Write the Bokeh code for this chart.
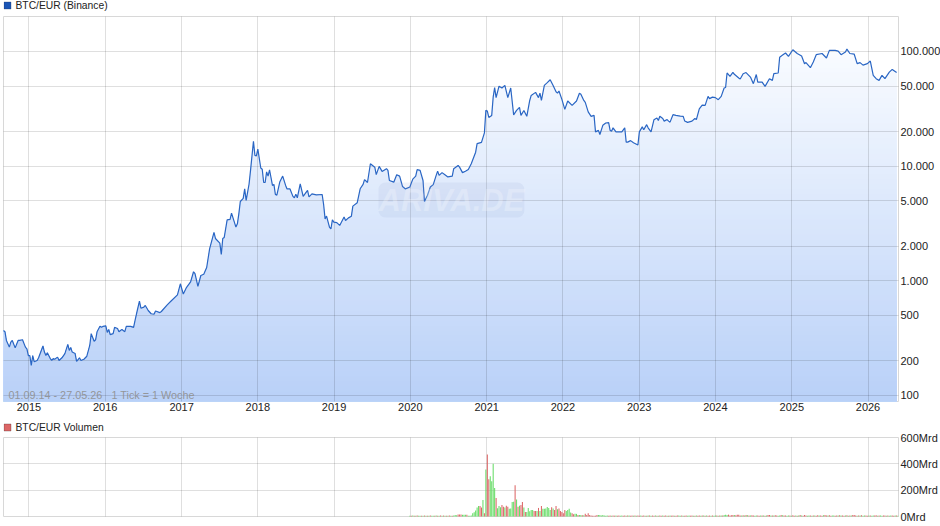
from datetime import datetime, timedelta
import numpy as np
from bokeh.embed import file_html
from bokeh.resources import INLINE
from bokeh.layouts import column
from bokeh.plotting import figure
from bokeh.models import FixedTicker, Label, BoxAnnotation, ColumnDataSource, Range1d

START = datetime(2014, 9, 1)
END = datetime(2026, 5, 27)
years = list(range(2015, 2027))
price_ticks = [100, 200, 500, 1000, 2000, 5000, 10000, 20000, 50000, 100000]
price_labels = ["100", "200", "500", "1.000", "2.000", "5.000", "10.000", "20.000", "50.000", "100.000"]
vol_ticks = [0, 200, 400, 600]
vol_labels = ["0Mrd", "200Mrd", "400Mrd", "600Mrd"]

# weeks since 01.09.14 and weekly close in EUR
weeks = [0,1,2,4,5,6,8,10,11,13,15,16,17,18,19,20,21,23,24,27,28,29,30,32,33,34,35,37,38,40,42,44,45,46,47,49,50,52,53,55,57,59,60,62,63,64,66,67,68,70,71,72,73,75,76,78,79,80,81,83,84,87,89,90,91,93,94,96,97,99,101,103,104,107,108,112,115,119,121,123,125,127,128,130,131,133,135,137,139,141,144,145,148,149,150,151,153,155,156,159,160,161,162,164,165,166,168,169,171,172,173,174,176,177,178,179,180,181,182,184,185,186,187,189,191,193,194,196,198,199,200,201,203,205,208,209,211,214,218,219,220,221,223,224,225,226,228,230,233,234,236,238,239,242,244,246,247,249,251,254,255,257,259,262,263,264,267,269,271,273,275,278,280,282,283,285,287,288,290,292,294,296,297,298,300,302,304,307,308,311,312,314,316,318,320,323,324,327,329,330,331,332,334,335,336,337,339,341,343,345,347,349,351,353,354,356,358,360,361,364,366,367,368,370,372,374,376,378,379,380,382,384,386,389,392,394,395,397,398,400,402,404,405,407,408,410,412,414,415,416,417,419,423,425,426,427,429,431,434,435,437,438,440,441,443,445,447,448,449,451,452,454,455,456,458,460,463,465,466,468,471,473,474,476,478,480,482,483,485,487,489,491,493,494,495,497,499,500,503,504,506,508,511,513,515,516,519,521,524,526,527,530,531,533,535,537,540,543,546,548,549,552,554,556,560,563,565,569,571,573,576,577,579,582,584,586,588,591,593,595,597,599,601,603,606,608,611]
prices = [369,360,302,264,292,302,260,302,302,306,264,255,223,223,183,223,197,202,213,270,239,223,236,210,202,210,207,216,202,213,232,279,247,262,239,232,198,213,202,207,220,273,346,297,306,359,401,393,400,405,355,376,339,346,393,384,360,369,376,360,400,400,393,451,516,665,577,590,610,551,516,512,545,528,540,617,674,753,942,766,867,942,980,1200,1153,893,1113,1140,1307,1900,2640,2340,2130,1700,2340,2390,3400,3430,3890,2940,3140,3830,4920,5230,6350,5020,6990,9180,16500,12400,12300,14100,9640,9400,7200,7200,8900,8180,9300,6790,6930,5660,5590,7260,8190,6790,6330,6330,5450,5300,5700,5300,7000,5450,6140,5400,5730,5610,5660,4630,3470,3670,2940,2830,3410,3250,3220,3040,3600,3360,3540,3660,4480,4800,6350,6930,7630,7200,10500,9800,8440,9950,9000,9500,9180,7500,7250,8410,8180,6640,6330,6570,7700,8180,9320,9180,7500,4920,5550,6570,6900,8300,9040,8300,8780,8410,8050,8180,9500,10150,9800,8780,9040,9360,10500,13240,15700,16100,19500,30630,30200,26600,27700,40000,48500,39600,49800,48000,50600,39600,48000,28000,30600,32600,27700,30600,27200,37400,41400,44000,39600,43300,37400,50600,53500,56700,50600,44500,43300,45200,38200,31300,37000,33900,37000,43300,42400,37400,36000,29700,27200,27700,19900,20500,18900,22700,23800,24000,20500,20200,21600,19900,19900,21600,16200,16200,16700,16000,15300,19900,22000,20800,23000,21600,19900,25400,26300,25000,27200,26000,24700,25500,24700,24200,28100,27700,27300,27200,24800,24100,24700,26000,25500,31600,34100,33870,40600,38800,40000,39600,38000,40600,48000,48500,65000,60700,65700,63200,58800,57500,64000,65500,59800,52400,63000,54100,54100,49600,57900,56000,64000,64900,89200,93000,97000,90600,103500,96000,91200,78300,80000,72200,81000,93800,96000,87800,102200,102200,100800,93800,98800,105000,96000,94700,78300,80000,76100,78300,82500,61900,57900,56000,61900,57900,66000,69800,65500]

# weekly volume in Mrd from week 278 (January 2020); negative = falling week (red)
vol_first_week = 278
vol_signed = [6,-6,7,-6,6,-7,6,6,-6,6,-7,6,-6,6,-7,6,6,-6,7,-6,6,-7,6,-7,6,-6,6,-7,6,-6,7,
 12,10,-15,-15,-15,13,14,14,-14,6,6,
 8,25,32,45,68,80,-80,-68,125,-25,357,-470,-282,305,267,400,217,-140,62,80,70,-87,-75,68,-82,-75,58,60,110,112,-237,130,-75,82,-87,-110,68,-35,35,65,40,50,50,-42,-42,42,-65,42,-80,58,58,60,72,65,50,-70,60,-50,-80,55,-60,-42,-35,-25,-50,42,50,58,30,-25,-18,20,20,-12,12,12,-10,10,-20,-12,-25,
 -12,-8,-6,-6,-6,-12,12,12,8,12,7,6,
 7,-6,-7,6,-7,-6,7,-6,-7,6,7,-6,-8,6,-7,7,-6,-7,6,-7,
 6,-7,-6,8,-6,-7,6,-6,7,-7,6,-7,-6,7,-6,6,-7,-6,7,-6,
 -7,6,-6,7,-6,-7,6,-6,-7,7,6,-7,6,-6,-7,6,7,-6,-7,6,
 -6,7,-6,-7,6,-7,8,-6,7,-6,-7,6,-7,6,7,-8,6,-7,7,-8,
 12,13,11,-14,-8,-10,-12,11,-9,-14,-13,-8,7,-10,8,-12,9,-7,8,-9,
 -7,6,8,-7,-6,8,-8,7,-6,7,-11,-12,8,-7,7,-10,-8,6,7,-11,
 10,-8,-7,6,8,-7,6,-10,-6,7,-6,8,-12,7,-6,-11,-7,6,7,-8,
 6,-7,8,-6,-9,7,-8,-6,9,-11,-8,7,-10,-6,7,8,-6,-7,8,-9,
 8,-8,-6,7,-9,6,-8,7,-11,-12,-7,6,-8,7,-9,6,7,-8,-6,7,
 -8,6,7,-8,-9,6,-7,8,6,-7,-8,6,-7,6,8,-7,-6,7,-8,6]

dates = [START + timedelta(days=7 * w) for w in weeks]
vol_dates = [START + timedelta(days=7 * (vol_first_week + i)) for i in range(len(vol_signed))]
year_dates = [datetime(y, 1, 1) for y in years]
year_ms = [int((d - datetime(1970, 1, 1)).total_seconds() * 1000) for d in year_dates]
year_over = {m: str(y) for m, y in zip(year_ms, years)}

FONT = "Liberation Sans"
TXT = "#222222"
GRID_ALPHA = 0.125

def style(p):
    p.toolbar.logo = None
    p.outline_line_color = "#d8d8d8"
    p.outline_line_width = 1
    p.background_fill_color = "white"
    p.border_fill_color = "white"
    for g in p.xgrid + p.ygrid:
        g.level = "guide"
        g.grid_line_color = "black"
        g.grid_line_alpha = GRID_ALPHA
        g.grid_line_width = 1
    for a in p.xaxis + p.yaxis:
        a.axis_line_color = None
        a.major_tick_line_color = None
        a.minor_tick_line_color = None
        a.major_tick_out = 0
        a.major_tick_in = 0
        a.minor_tick_out = 0
        a.minor_tick_in = 0
        a.major_label_text_font = FONT
        a.major_label_text_font_size = "11px"
        a.major_label_text_color = TXT

def key_strip(text, height, centre, fill, edge):
    """A thin row above a panel holding its colour box and name."""
    s = figure(width=940, height=height, x_range=Range1d(0, 940), y_range=Range1d(0, height),
               min_border=0, output_backend="svg", toolbar_location=None)
    s.axis.visible = False
    s.grid.visible = False
    s.outline_line_color = None
    s.add_layout(BoxAnnotation(left=0.5, right=7.5, bottom=centre - 3.5, top=centre + 3.5,
                               left_units="screen", right_units="screen",
                               top_units="screen", bottom_units="screen",
                               fill_color=fill, fill_alpha=1, line_color=edge, line_width=1))
    s.add_layout(Label(x=12, y=centre, x_units="screen", y_units="screen", text=text,
                       text_baseline="middle", text_font=FONT, text_font_size="10.3px", text_color=TXT))
    return s

# ---------- price panel ----------
y_lo, y_hi = 88.6, 201900
p = figure(width=940, height=404, frame_width=895, frame_height=385,
           x_axis_type="datetime", y_axis_type="log", y_axis_location="right",
           x_range=Range1d(START, END), y_range=Range1d(y_lo, y_hi),
           min_border_left=3, min_border_right=42, min_border_top=0, min_border_bottom=19,
           output_backend="svg", toolbar_location=None)
style(p)
p.xaxis.ticker = FixedTicker(ticks=year_ms)
p.xaxis.major_label_overrides = year_over
p.xaxis.major_label_standoff = 1
p.xgrid.ticker = FixedTicker(ticks=year_ms)
p.yaxis.ticker = FixedTicker(ticks=price_ticks)
p.yaxis.major_label_overrides = dict(zip(price_ticks, price_labels))
p.yaxis.major_label_standoff = 2
p.ygrid.ticker = FixedTicker(ticks=price_ticks)

# vertical colour fade under the line, painted from light to dark
arr = np.array(prices, dtype=float)
levels = np.logspace(np.log10(120000), np.log10(y_lo), 72)
top_rgb = np.array([250, 252, 255])
bot_rgb = np.array([184, 208, 248])
for i, lev in enumerate(levels):
    c = top_rgb + (bot_rgb - top_rgb) * i / (len(levels) - 1)
    p.varea(x=dates, y1=y_lo, y2=np.minimum(arr, lev),
            fill_color="#%02x%02x%02x" % tuple(int(round(v)) for v in c))

p.line(dates, prices, line_color="#2a66c4", line_width=1.2, level="annotation")

p.add_layout(Label(x=5, y=1, x_units="screen", y_units="screen",
                   text="01.09.14 - 27.05.26", text_font=FONT,
                   text_font_size="10.8px", text_color="#8e8e8e", text_alpha=0.9))
p.add_layout(Label(x=108, y=1, x_units="screen", y_units="screen",
                   text="1 Tick = 1 Woche", text_font=FONT,
                   text_font_size="10.8px", text_color="#8e8e8e", text_alpha=0.9))
p.add_layout(Label(x=375, y=184, x_units="screen", y_units="screen", text="ARIVA.DE",
                   text_font=FONT, text_font_size="31px", text_font_style="bold italic",
                   text_color="white", text_alpha=0.25, background_fill_color="#8fa6cf",
                   background_fill_alpha=0.13, border_radius=7, padding=0))

# ---------- volume panel ----------
v = figure(width=940, height=106, frame_width=895, frame_height=79,
           x_axis_type="datetime", y_axis_location="right",
           x_range=p.x_range, y_range=Range1d(0, 600),
           min_border_left=3, min_border_right=42, min_border_top=17, min_border_bottom=10,
           output_backend="svg", toolbar_location=None, margin=(-17, 0, 0, 0))
style(v)
v.border_fill_alpha = 0
v.xaxis.visible = False
v.xgrid.ticker = FixedTicker(ticks=year_ms)
v.yaxis.ticker = FixedTicker(ticks=vol_ticks)
v.yaxis.major_label_overrides = dict(zip(vol_ticks, vol_labels))
v.yaxis.major_label_standoff = 2
v.ygrid.ticker = FixedTicker(ticks=vol_ticks)

src = ColumnDataSource(dict(
    x=vol_dates,
    top=[abs(a) for a in vol_signed],
    color=["#67dc67" if a > 0 else "#dc6666" for a in vol_signed],
))
BAR_MS = 5 * 24 * 3600 * 1000
v.vbar(x="x", top="top", width=BAR_MS, bottom=0, fill_color="color", line_color=None, source=src, level="annotation")

strip1 = key_strip("BTC/EUR (Binance)", 16, 11, "#1a55b5", "#1c2f55")
strip2 = key_strip("BTC/EUR Volumen", 17, 10, "#dc6666", "#3a2525")

page = column(strip1, p, strip2, v, spacing=0)
open("out.html", "w").write(file_html(page, INLINE))
